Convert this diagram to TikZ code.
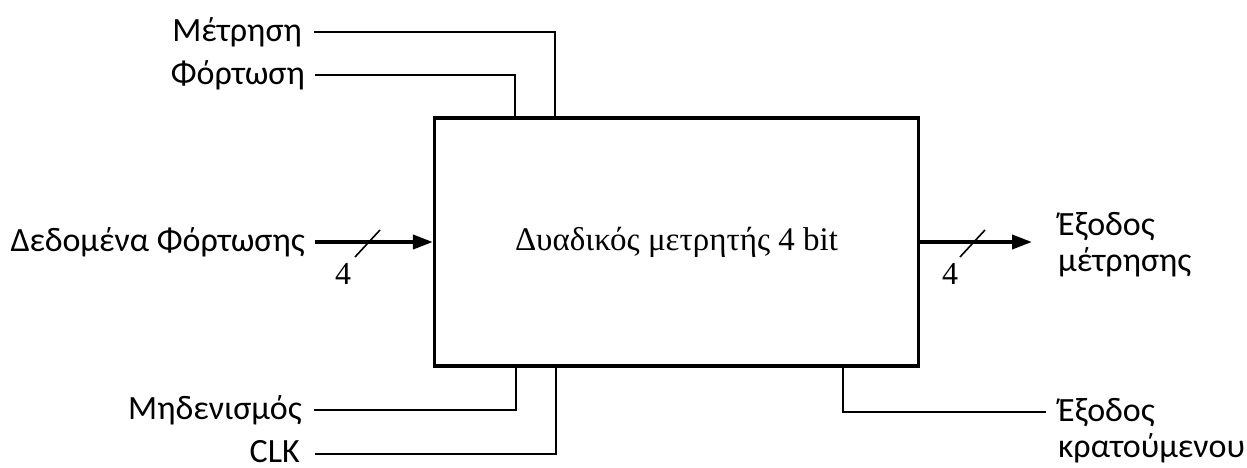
\documentclass[tikz,border=0pt]{standalone}
\usepackage{fontspec}
\setmainfont{Carlito}
\newfontfamily\boxfont{Liberation Serif}
\usetikzlibrary{arrows.meta}
\begin{document}
\begin{tikzpicture}[x=1pt,y=-1pt,
  lbl/.style={font=\fontsize{34}{36}\selectfont, inner sep=0pt},
  wire/.style={line width=2.8pt, line join=miter},
  bus/.style={line width=3.8pt, -{Triangle[length=20pt,width=14pt]}},
  slashmark/.style={line width=1.6pt},
  width4/.style={font=\boxfont\fontsize{32}{34}\selectfont, inner sep=0pt}]
\useasboundingbox (0,0) rectangle (1247,468);
% counter block
\node[draw, line width=3.2pt, minimum width=484pt, minimum height=248pt, inner sep=0pt,
      font=\boxfont\fontsize{33}{36}\selectfont] (cnt) at (676.5,242) {Δυαδικός μετρητής 4 bit};
% labels
\node[lbl, anchor=east] (count) at (302,32) {Μέτρηση};
\node[lbl, anchor=east] (load) at (305,75) {Φόρτωση};
\node[lbl, anchor=east] (data) at (305,242) {Δεδομένα Φόρτωσης};
\node[lbl, anchor=east] (clr) at (302,410) {Μηδενισμός};
\node[lbl, anchor=base east] (clk) at (300,462) {CLK};
\node[lbl, anchor=west, align=left] (out) at (1058,245) {Έξοδος\\μέτρησης};
\node[lbl, anchor=west, align=left] (carry) at (1058,431) {Έξοδος\\κρατούμενου};
% control wires
\coordinate (cntTop) at (555,118);
\coordinate (loadTop) at (515,118);
\coordinate (clrBot) at (516,366);
\coordinate (clkBot) at (556,366);
\coordinate (carBot) at (843,366);
\draw[wire] ([xshift=12pt]count.east) -| (cntTop);
\draw[wire] ([xshift=10pt]load.east) -| (loadTop);
\draw[wire] ([xshift=12pt]clr.east) -| (clrBot);
\draw[wire] ([xshift=15pt]clk.east |- 0,454) -| (clkBot);
\draw[wire] (carBot) |- (1046,412) coordinate (carEnd);
% 4-bit buses
\coordinate (inStart) at (315,242);
\coordinate (outEnd) at (1032,242);
\draw[bus] (inStart) -- (cnt.west);
\draw[bus] (cnt.east |- outEnd) -- (outEnd);
\draw[slashmark] (355,257) -- (380,230);
\draw[slashmark] (960,257) -- (985,230);
\node[width4] (nin) at (343,274) {4};
\node[width4] (nout) at (950,274) {4};
\end{tikzpicture}
\end{document}
